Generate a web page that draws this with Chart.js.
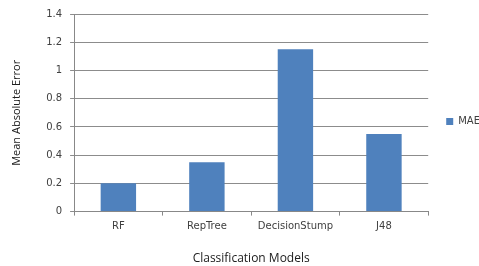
<!DOCTYPE html>
<html>
<head>
<meta charset="utf-8">
<script src="https://cdn.jsdelivr.net/npm/chart.js@4/dist/chart.umd.min.js"></script>
<style>
    html, body { margin: 0; padding: 0; background: #fff; overflow: hidden; }
    #wrap { width: 490px; height: 266px; position: relative; }
</style>
</head>
<body>
<div id="wrap"><canvas id="maeChart"></canvas></div>
<script>
// Dados do gráfico
const modelos = ['RF', 'RepTree', 'DecisionStump', 'J48'];
const valoresMAE = [0.2, 0.35, 1.15, 0.55];
const serieNome = 'MAE';

document.addEventListener('DOMContentLoaded', function() {
    const ctx = document.getElementById('maeChart');
    new Chart(ctx, {
        type: 'bar',
        data: {
            labels: modelos,
            datasets: [{
                label: serieNome,
                data: valoresMAE,
                backgroundColor: '#4F81BD',
                borderWidth: 0,
                categoryPercentage: 0.8,
                barPercentage: 0.5
            }]
        },
        options: {
            responsive: true,
            maintainAspectRatio: false,
            animation: false,
            layout: { padding: { top: 11, left: 10, right: 0, bottom: 0 } },
            plugins: {
                legend: {
                    position: 'right',
                    fullSize: false,
                    title: { display: true, text: '', padding: 8, font: { size: 1 } },
                    labels: {
                        boxWidth: 7,
                        boxHeight: 7,
                        padding: 18,
                        color: '#404040',
                        font: { family: 'DejaVu Sans', size: 10 }
                    }
                },
                tooltip: { enabled: false }
            },
            scales: {
                x: {
                    grid: {
                        offset: true,
                        drawOnChartArea: false,
                        tickLength: 4,
                        color: '#888'
                    },
                    border: { color: '#888' },
                    ticks: {
                        color: '#404040',
                        padding: 5,
                        font: { family: 'DejaVu Sans', size: 10 }
                    },
                    title: {
                        display: true,
                        text: 'Classification Models',
                        color: '#202020',
                        padding: { top: 14, bottom: 0 },
                        font: { family: 'Open Sans', size: 12 }
                    }
                },
                y: {
                    min: 0,
                    max: 1.4,
                    ticks: {
                        stepSize: 0.2,
                        color: '#404040',
                        padding: 8,
                        font: { family: 'DejaVu Sans', size: 10 },
                        callback: function(v) { return String(Math.round(v * 10) / 10); }
                    },
                    grid: {
                        color: '#8c8c8c',
                        tickLength: 4
                    },
                    border: { color: '#888' },
                    title: {
                        display: true,
                        text: 'Mean Absolute Error',
                        color: '#202020',
                        padding: { top: 0, bottom: 15 },
                        font: { family: 'Open Sans', size: 11 }
                    }
                }
            }
        }
    });
});
</script>
</body>
</html>
